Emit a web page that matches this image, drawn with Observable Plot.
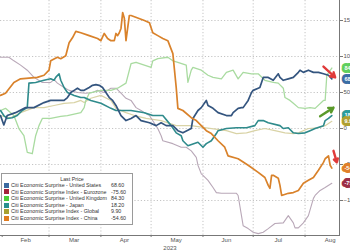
<!DOCTYPE html>
<html><head><meta charset="utf-8">
<script src="https://cdn.jsdelivr.net/npm/d3@7"></script>
<script src="https://cdn.jsdelivr.net/npm/@observablehq/plot@0.6"></script>
<style>
html,body{margin:0;padding:0;background:#fff;}
#wrap{position:relative;width:350px;height:250px;overflow:hidden;font-family:"Liberation Sans",Arial,sans-serif;}
#legend{position:absolute;left:1px;top:173px;width:132px;height:52px;border:1px solid #9a9a9a;background:#fff;box-sizing:border-box;font-size:5.3px;color:#333;line-height:6.6px;}
#legend .hd{text-align:center;padding-left:10px;margin-top:1.5px;}
#legend .row{position:relative;height:6.6px;white-space:nowrap;}
#legend .sw{position:absolute;left:2px;top:0.8px;width:5px;height:5px;}
#legend .lb{position:absolute;left:9px;top:0;}
#legend .vl{position:absolute;left:109px;top:0;}
</style></head>
<body><div id="wrap"><div id="chart"></div><div id="legend"></div></div>
<script>
// ---- data ----
const seriesNames = ["Citi Economic Surprise - United States","Citi Economic Surprise Index - Eurozone","Citi Economic Surprise - United Kingdom","Citi Economic Surprise - Japan","Citi Economic Surprise Index - Global","Citi Economic Surprise Index - China"];
const lastPrices = ["68.60","-75.60","84.30","18.20","9.90","-54.60"];
const lastValues = [68.6,-75.6,84.3,18.2,9.9,-54.6];
const lineColors = ["#34557f","#b9a8b8","#a9dba0","#2f8b8c","#d9d3a6","#d9822b"];
const legendColors = ["#3a6aa0","#a3243b","#4ccf3a","#2a8f8f","#a8a030","#e07b20"];
const tagColors = ["#3a6ea5","#9c2f48","#5fcf5f","#2a9d9d","#b0a030","#e0802a"];

const usDates = ["01-31","02-02","02-04","02-09","02-15","02-20","02-26","03-02","03-06","03-10","03-12","03-14","03-16","03-18","03-20","03-22","03-25","03-27","03-29","03-31","04-02","04-04","04-06","04-08","04-10","04-13","04-16","04-19","04-22","04-25","04-30","05-04","05-07","05-10","05-14","05-17","05-20","05-25","05-26","05-29","05-31","06-03","06-04","06-07","06-10","06-15","06-18","06-19","06-22","06-24","06-25","06-28","06-30","07-01","07-04","07-05","07-07","07-10","07-13","07-16","07-17","07-19","07-22","07-25","07-28","07-29","07-31","08-03","08-06","08-09","08-12","08-15","08-17"];
const usValues = [18,5,18,22,29,29,36,39,39,39,43,50,53,56,53,53,57,60,61,60,57,50,43,39,32,18,11,14,18,11,8,4,8,4,4,-3,-6,0,14,25,29,39,32,28,22,18,18,22,28,29,29,39,50,53,56,57,71,71,67,76,71,67,69,71,78,81,78,81,78,78,76,74,69];

const euDates = ["01-31","02-05","02-08","02-12","02-16","02-20","02-25","03-02","03-04","03-06","03-10","03-13","03-18","03-23","03-27","03-30","04-03","04-07","04-10","04-13","04-16","04-19","04-22","04-25","04-27","04-30","05-05","05-07","05-08","05-14","05-19","05-22","05-25","05-28","05-29","05-31","06-01","06-04","06-07","06-09","06-12","06-15","06-21","06-22","06-24","06-25","06-28","07-01","07-04","07-07","07-10","07-14","07-19","07-22","07-25","07-26","07-28","07-31","08-03","08-06","08-07","08-10","08-13","08-17"];
const euValues = [99,99,94,88,81,71,64,64,68,63,57,53,50,49,50,53,50,56,56,49,42,39,29,25,22,18,0,-10,-17,-21,-26,-26,-31,-40,-51,-63,-65,-72,-82,-89,-90,-90,-90,-93,-121,-135,-139,-144,-146,-144,-139,-132,-131,-121,-131,-138,-138,-131,-121,-97,-93,-86,-82,-76];

const ukDates = ["01-31","02-03","02-08","02-11","02-14","02-16","02-19","02-21","02-23","02-25","03-02","03-08","03-12","03-20","03-22","03-23","03-25","04-01","04-07","04-11","04-16","04-19","04-22","05-01","05-02","05-05","05-11","05-14","05-17","05-22","05-23","05-25","05-26","05-31","06-04","06-07","06-12","06-15","06-19","06-22","06-25","06-30","07-04","07-08","07-13","07-16","07-19","07-20","07-23","07-25","07-28","08-01","08-04","08-07","08-12","08-13","08-14","08-17"];
const ukValues = [25,28,18,0,-10,-33,-35,-10,4,14,14,17,18,22,29,39,49,53,53,56,63,90,92,85,94,97,99,94,92,88,64,81,85,81,74,71,69,78,81,69,78,76,76,67,64,63,56,43,39,35,29,28,29,28,39,39,74,84];

const jpDates = ["01-31","02-02","02-04","02-07","02-10","02-13","02-16","02-17","02-21","02-26","03-02","03-04","03-05","03-07","03-08","03-10","03-12","03-16","03-20","03-22","03-26","04-01","04-07","04-10","04-19","04-27","05-02","05-08","05-13","05-16","05-19","05-20","05-23","05-29","06-01","06-03","06-06","06-09","06-10","06-15","06-21","06-27","07-02","07-04","07-07","07-10","07-17","07-19","07-22","07-25","07-28","08-01","08-04","08-07","08-12","08-13","08-15","08-17"];
const jpValues = [25,18,14,15,18,25,29,63,64,67,69,67,71,76,67,57,50,46,43,43,39,35,28,25,25,22,18,18,4,-6,-10,-17,-24,-19,-26,-21,-17,-7,-3,0,1,1,4,11,11,8,4,0,1,-6,-7,-6,-3,0,4,11,14,18];

const glDates = ["01-31","02-06","02-12","02-20","02-26","03-04","03-10","03-16","03-20","03-22","03-26","04-01","04-07","04-10","04-16","04-21","04-28","05-07","05-16","05-25","06-03","06-15","06-21","06-27","07-02","07-08","07-14","07-20","07-25","07-28","08-03","08-09","08-13","08-17"];
const glValues = [18,15,22,29,29,32,35,36,39,36,42,46,39,28,22,18,14,11,4,4,1,-3,-7,-6,-3,0,-3,-6,-7,-6,0,1,4,10];

const cnDates = ["01-31","02-03","02-08","02-12","02-22","02-26","03-01","03-02","03-06","03-08","03-11","03-13","03-15","03-17","03-20","03-25","03-30","04-01","04-03","04-05","04-07","04-09","04-10","04-11","04-12","04-13","04-14","04-15","04-16","04-18","04-19","04-27","04-30","05-02","05-05","05-08","05-11","05-14","05-16","05-17","05-20","05-25","05-28","05-31","06-03","06-06","06-10","06-14","06-16","06-22","06-28","07-04","07-08","07-10","07-11","07-12","07-13","07-16","07-17","07-18","07-22","07-25","07-28","07-31","08-03","08-06","08-09","08-12","08-13","08-15","08-16","08-17"];
const cnValues = [46,49,64,69,71,74,81,94,99,97,101,119,126,135,133,129,125,122,132,125,122,122,132,129,133,139,161,153,122,157,157,150,147,133,129,125,122,104,57,28,25,15,11,4,-3,-7,-17,-26,-38,-42,-51,-61,-68,-79,-83,-65,-65,-69,-79,-93,-90,-89,-86,-76,-72,-68,-58,-47,-42,-38,-51,-55];

const yTicks = [-100,-50,0,50,100,150];
const gridMonths = ["03-01","04-01","05-01","06-01","07-01","08-01"];
const tickMonths = ["02-01","03-01","04-01","05-01","06-01","07-01","08-01"];
const labelMonths = ["02-15","03-16","04-15","05-16","06-15","07-16","08-16"];
const xDomain = ["2023-01-31T00:00Z","2023-08-21T14:00Z"];
const yDomain = [-148.6, 177.8];
// annotation arrows (start date, start value, end date, end value)
const arrowColors = ["#e03a3a","#5a9a2a","#e03a3a"];
const arrowFrom = [["08-12",86],["08-10",17],["08-18",-31]];
const arrowTo = [["08-19",71],["08-18",29],["08-20",-47]];

// ---- build ----
const D = s => new Date("2023-" + s + "T00:00Z");
const dateLists = [usDates, euDates, ukDates, jpDates, glDates, cnDates];
const valueLists = [usValues, euValues, ukValues, jpValues, glValues, cnValues];
const series = seriesNames.map((name, i) => dateLists[i].map((d, j) => ({date: D(d), value: valueLists[i][j], name})));
const widths = [1.7, 1.1, 1.3, 1.6, 1.2, 1.7];
const drawOrder = [4, 1, 2, 3, 0, 5];
const xEnd = new Date(xDomain[1]);
const tags = seriesNames.map((n, i) => ({date: xEnd, value: lastValues[i], text: lastPrices[i], color: tagColors[i]}));
const arrows = arrowFrom.map((a, i) => ({x1: D(a[0]), y1: a[1], x2: D(arrowTo[i][0]), y2: arrowTo[i][1], color: arrowColors[i]}));

const chart = Plot.plot({
  width: 350, height: 250,
  marginTop: 0, marginRight: 11, marginBottom: 15, marginLeft: 0,
  style: {fontFamily: "Liberation Sans, Arial, sans-serif", fontSize: "6px", color: "#444", background: "#fff"},
  x: {type: "utc", domain: xDomain.map(d => new Date(d))},
  y: {domain: yDomain},
  marks: [
    Plot.gridX(gridMonths.map(D), {stroke: "#c4c4c4", strokeOpacity: 1, strokeDasharray: "1.2,2"}),
    Plot.gridY(yTicks, {stroke: "#c4c4c4", strokeOpacity: 1, strokeDasharray: "1.2,2"}),
    ...drawOrder.map(i => Plot.line(series[i], {x: "date", y: "value", stroke: lineColors[i], strokeWidth: widths[i], strokeLinejoin: "round"})),
    Plot.frame({anchor: "bottom", stroke: "#777"}),
    Plot.frame({anchor: "right", stroke: "#777"}),
    Plot.axisX({ticks: tickMonths.map(D), tickSize: 2, tickFormat: () => "", stroke: "#777"}),
    Plot.axisX({ticks: labelMonths.map(D), tickSize: 0, tickPadding: 2, tickFormat: d3.utcFormat("%b"), fontSize: 6, fill: "#555",
      label: "2023", labelAnchor: "center", labelArrow: "none", labelOffset: 14}),
    Plot.axisY({anchor: "right", ticks: yTicks, tickSize: 3, tickPadding: 1, fontSize: 6, fill: "#555", stroke: "#777", label: null}),
    Plot.arrow(arrows, {x1: "x1", y1: "y1", x2: "x2", y2: "y2", stroke: "color", strokeWidth: 2.4, headLength: 5, clip: false}),
    Plot.text(tags, {x: "date", y: "value", text: "text", fill: "white", stroke: "color", strokeWidth: 6, strokeLinejoin: "round", paintOrder: "stroke", dx: 5, textAnchor: "start", fontSize: 5.5, fontWeight: "bold", clip: false})
  ]
});
document.getElementById("chart").append(chart);

// legend
const lg = document.getElementById("legend");
const hd = document.createElement("div"); hd.className = "hd"; hd.textContent = "Last Price"; lg.append(hd);
seriesNames.forEach((n, i) => {
  const r = document.createElement("div"); r.className = "row";
  r.innerHTML = `<span class="sw" style="background:${legendColors[i]}"></span><span class="lb">${n}</span><span class="vl">${lastPrices[i]}</span>`;
  lg.append(r);
});
</script>
</body></html>
